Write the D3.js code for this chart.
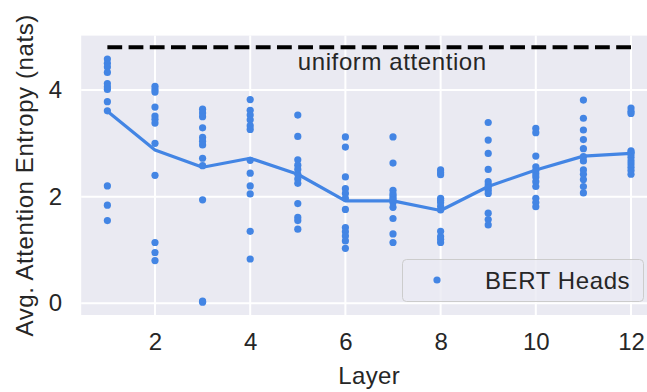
<!DOCTYPE html>
<html>
<head>
<meta charset="utf-8">
<script src="https://cdn.jsdelivr.net/npm/d3@7"></script>
<style>
  html, body { margin: 0; padding: 0; background: #ffffff; }
  svg { display: block; }
  text { font-family: "Liberation Sans", Arial, sans-serif; fill: #262626; }
</style>
</head>
<body>
<svg id="chart" width="647" height="392"></svg>
<script>
// Per-head attention entropies (nats), 12 heads for each of the 12 layers
const layers = [1, 2, 3, 4, 5, 6, 7, 8, 9, 10, 11, 12];
const headEntropy = [
  [4.58, 4.50, 4.43, 4.33, 4.12, 4.06, 4.01, 3.78, 3.61, 2.20, 1.84, 1.55],
  [4.07, 4.01, 3.96, 3.68, 3.51, 3.45, 3.38, 3.00, 2.40, 1.14, 0.95, 0.80],
  [3.64, 3.57, 3.50, 3.29, 3.11, 3.04, 2.97, 2.72, 2.58, 1.94, 0.04, 0.02],
  [3.82, 3.62, 3.53, 3.44, 3.33, 3.26, 2.68, 2.44, 2.20, 2.05, 1.35, 0.83],
  [3.53, 3.13, 2.69, 2.59, 2.51, 2.42, 2.33, 2.25, 1.87, 1.61, 1.55, 1.39],
  [3.12, 2.93, 2.37, 2.15, 2.06, 1.97, 1.76, 1.42, 1.34, 1.26, 1.17, 1.03],
  [3.12, 2.63, 2.12, 2.05, 2.01, 1.97, 1.93, 1.89, 1.80, 1.59, 1.30, 1.14],
  [2.50, 2.45, 2.41, 1.97, 1.93, 1.89, 1.82, 1.75, 1.35, 1.25, 1.20, 1.14],
  [3.39, 3.06, 2.81, 2.51, 2.28, 2.22, 2.17, 2.12, 2.06, 1.69, 1.57, 1.47],
  [3.28, 3.20, 2.76, 2.56, 2.49, 2.43, 2.37, 2.28, 2.19, 1.97, 1.89, 1.81],
  [3.81, 3.47, 3.25, 3.07, 2.90, 2.75, 2.67, 2.50, 2.42, 2.32, 2.19, 2.07],
  [3.66, 3.60, 3.56, 2.86, 2.83, 2.80, 2.74, 2.67, 2.61, 2.55, 2.49, 2.42]
];
// Average entropy of the heads in each layer
const layerMean = [3.60, 2.875, 2.55, 2.72, 2.42, 1.92, 1.92, 1.74, 2.19, 2.50, 2.76, 2.81];
// Entropy of a uniform attention distribution
const uniformEntropy = 4.80;
const xTicks = [2, 4, 6, 8, 10, 12];
const yTicks = [0, 2, 4];

const W = 647, H = 392;
const pointColor = "#4385e4";
const svg = d3.select("#chart");

const x = d3.scaleLinear().domain([0.45, 12.55]).range([81.2, 657.2]);
const y = d3.scaleLinear().domain([-0.22, 5.02]).range([315, 35.6]);

// plotting area
svg.append("rect")
  .attr("x", x.range()[0]).attr("y", y.range()[1])
  .attr("width", x.range()[1] - x.range()[0])
  .attr("height", y.range()[0] - y.range()[1])
  .attr("fill", "#eaeaf2");

// grid lines
svg.append("g").selectAll("line").data(xTicks).join("line")
  .attr("x1", d => x(d)).attr("x2", d => x(d))
  .attr("y1", y.range()[0]).attr("y2", y.range()[1])
  .attr("stroke", "#ffffff").attr("stroke-width", 2);
svg.append("g").selectAll("line").data(yTicks).join("line")
  .attr("x1", x.range()[0]).attr("x2", x.range()[1])
  .attr("y1", d => y(d)).attr("y2", d => y(d))
  .attr("stroke", "#ffffff").attr("stroke-width", 2);

// axes (labels only, no domain line or tick marks)
const xAxis = svg.append("g")
  .attr("transform", `translate(0,${y.range()[0]})`)
  .call(d3.axisBottom(x).tickValues(xTicks).tickSize(0).tickPadding(18).tickFormat(d3.format("d")));
const yAxis = svg.append("g")
  .attr("transform", `translate(${x.range()[0]},0)`)
  .call(d3.axisLeft(y).tickValues(yTicks).tickSize(0).tickPadding(19).tickFormat(d3.format("d")));
[xAxis, yAxis].forEach(a => {
  a.select(".domain").remove();
  a.selectAll("text")
    .attr("fill", "#262626")
    .style("font-size", "24px")
    .style("font-family", "'Liberation Sans', Arial, sans-serif");
});

// uniform attention reference
svg.append("line")
  .attr("x1", x(1)).attr("x2", x(12))
  .attr("y1", y(uniformEntropy)).attr("y2", y(uniformEntropy))
  .attr("stroke", "#000000").attr("stroke-width", 4)
  .attr("stroke-dasharray", "14.8 6.4");
svg.append("text")
  .attr("x", x(5)).attr("y", y(4.37))
  .style("font-size", "24px").style("letter-spacing", "0.6px")
  .text("uniform attention");

// individual heads
const points = [];
layers.forEach((l, i) => headEntropy[i].forEach(v => points.push([l, v])));
svg.append("g").selectAll("circle").data(points).join("circle")
  .attr("cx", d => x(d[0])).attr("cy", d => y(d[1]))
  .attr("r", 3.6).attr("fill", pointColor);

// layer average
const line = d3.line().x((d, i) => x(layers[i])).y(d => y(d));
svg.append("path")
  .datum(layerMean)
  .attr("d", line)
  .attr("fill", "none").attr("stroke", pointColor)
  .attr("stroke-width", 3.2).attr("stroke-linejoin", "round");

// legend
const lg = svg.append("g");
lg.append("rect")
  .attr("x", 402.5).attr("y", 259.5).attr("width", 241).attr("height", 42)
  .attr("rx", 4).attr("ry", 4)
  .attr("fill", "rgba(234,234,242,0.8)").attr("stroke", "#cccccc").attr("stroke-width", 1);
lg.append("circle").attr("cx", 437).attr("cy", 280).attr("r", 3.6).attr("fill", pointColor);
lg.append("text").attr("x", 485).attr("y", 288.5)
  .style("font-size", "24px").style("letter-spacing", "0.6px")
  .text("BERT Heads");

// axis titles
svg.append("text")
  .attr("x", (x.range()[0] + x.range()[1]) / 2).attr("y", 384)
  .attr("text-anchor", "middle")
  .style("font-size", "24px").style("letter-spacing", "0.4px")
  .text("Layer");
svg.append("text")
  .attr("transform", `translate(33,${(y.range()[0] + y.range()[1]) / 2}) rotate(-90)`)
  .attr("text-anchor", "middle")
  .style("font-size", "24px").style("letter-spacing", "0.6px")
  .text("Avg. Attention Entropy (nats)");
</script>
</body>
</html>
